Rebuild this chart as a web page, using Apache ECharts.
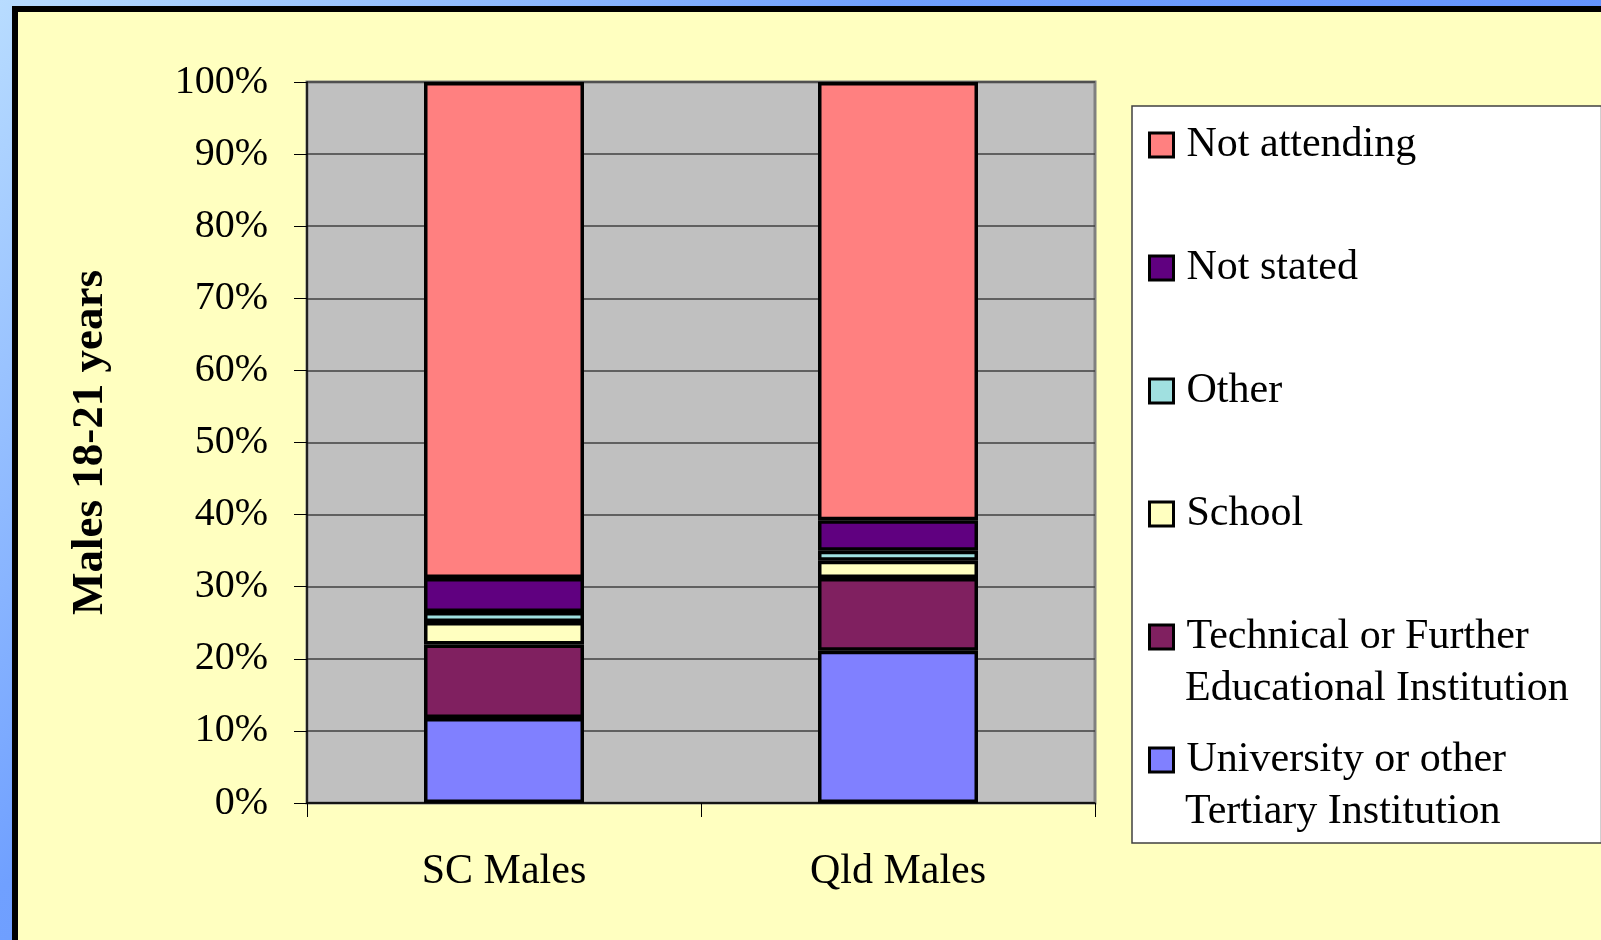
<!DOCTYPE html>
<html>
<head>
    <meta charset="utf-8">
    <title>Males 18-21 years</title>
    <script src="https://cdn.jsdelivr.net/npm/echarts@6/dist/echarts.min.js"></script>
    <style>
        html, body { margin: 0; padding: 0; }
        body {
            width: 1601px; height: 940px; overflow: hidden; position: relative;
            background: linear-gradient(135deg, #b8dcff 0%, #70a0ff 35%, #5585ff 100%);
        }
        #slide {
            position: absolute; left: 12px; top: 6px; right: -10px; bottom: -10px;
            background: #ffffc0;
            border-left: 6px solid #000; border-top: 6px solid #000;
        }
        #chart { position: absolute; left: 0; top: 0; width: 1601px; height: 940px; }
    </style>
</head>
<body>
    <div id="slide"></div>
    <div id="chart"></div>
    <script>
        // categories and stacked shares (%), bottom segment first
        var categories = ['SC Males', 'Qld Males'];
        var university = [11.8, 21.1];
        var technical = [10.2, 10.1];
        var school = [3.1, 2.4];
        var other = [1.4, 1.4];
        var notStated = [4.7, 4.2];
        var notAttending = [68.8, 60.8];
        var yTicks = [0, 10, 20, 30, 40, 50, 60, 70, 80, 90, 100];

        var seriesNames = [
            'University or other Tertiary Institution',
            'Technical or Further Educational Institution',
            'School', 'Other', 'Not stated', 'Not attending'
        ];
        var seriesData = [university, technical, school, other, notStated, notAttending];
        var seriesColors = ['#8080ff', '#802060', '#ffffc0', '#a0e0e0', '#600080', '#ff8080'];

        // legend is shown top to bottom, long names split over two lines
        var legendOrder = seriesNames.slice().reverse();
        var firstLine = {
            'University or other Tertiary Institution': 'University or other',
            'Technical or Further Educational Institution': 'Technical or Further'
        };
        var secondLine = {
            'University or other Tertiary Institution': 'Tertiary Institution',
            'Technical or Further Educational Institution': 'Educational Institution'
        };

        var font = 'Liberation Serif';
        var myChart = echarts.init(document.getElementById('chart'));

        var series = [];
        for (var i = 0; i < seriesNames.length; i++) {
            series.push({
                name: seriesNames[i],
                type: 'bar',
                stack: 'total',
                barWidth: 160,
                data: seriesData[i],
                itemStyle: {
                    color: seriesColors[i],
                    borderColor: '#000',
                    borderWidth: 3.5
                }
            });
        }

        var graphics = [];
        var lineTops = { 'Technical or Further Educational Institution': 668, 'University or other Tertiary Institution': 791 };
        for (var k in secondLine) {
            graphics.push({
                type: 'text',
                left: 1185,
                top: lineTops[k],
                z: 100,
                style: { text: secondLine[k], font: '42px ' + font, fill: '#000' }
            });
        }

        var option = {
            animation: false,
            textStyle: { fontFamily: font, color: '#000' },
            grid: {
                left: 307, right: 506, top: 82, bottom: 137,
                show: true,
                backgroundColor: '#c0c0c0',
                borderColor: '#808080',
                borderWidth: 3
            },
            legend: {
                orient: 'vertical',
                left: 1132,
                top: 106,
                data: legendOrder,
                icon: 'rect',
                itemWidth: 24,
                itemHeight: 24,
                itemGap: 75,
                padding: [15, 8, 59, 16],
                backgroundColor: '#ffffff',
                borderColor: '#404040',
                borderWidth: 1.5,
                itemStyle: { borderColor: '#000', borderWidth: 3 },
                formatter: function (name) { return firstLine[name] || name; },
                textStyle: {
                    fontFamily: font, fontSize: 42, lineHeight: 48, color: '#000',
                    width: 407, padding: [0, 0, 0, 8]
                }
            },
            xAxis: {
                type: 'category',
                data: categories,
                axisLine: { lineStyle: { color: '#000', width: 1.5 } },
                axisTick: { show: true, length: 14, lineStyle: { color: '#000' } },
                axisLabel: { fontFamily: font, fontSize: 42, color: '#000', margin: 48 },
                splitLine: { show: false }
            },
            yAxis: {
                type: 'value',
                min: yTicks[0],
                max: yTicks[yTicks.length - 1],
                interval: yTicks[1] - yTicks[0],
                name: 'Males 18-21 years',
                nameLocation: 'middle',
                nameGap: 194,
                nameRotate: 90,
                nameTextStyle: { fontFamily: font, fontSize: 45, fontWeight: 'bold', color: '#000' },
                axisLine: { show: true, lineStyle: { color: '#000', width: 1.5 } },
                axisTick: { show: true, length: 13, lineStyle: { color: '#000' } },
                axisLabel: {
                    fontFamily: font, fontSize: 40, color: '#000', margin: 39,
                    padding: [8, 0, 0, 0], formatter: '{value}%'
                },
                splitLine: { show: true, lineStyle: { color: '#404040', width: 1.5 } }
            },
            graphic: graphics,
            series: series
        };
        myChart.setOption(option);
    </script>
</body>
</html>
